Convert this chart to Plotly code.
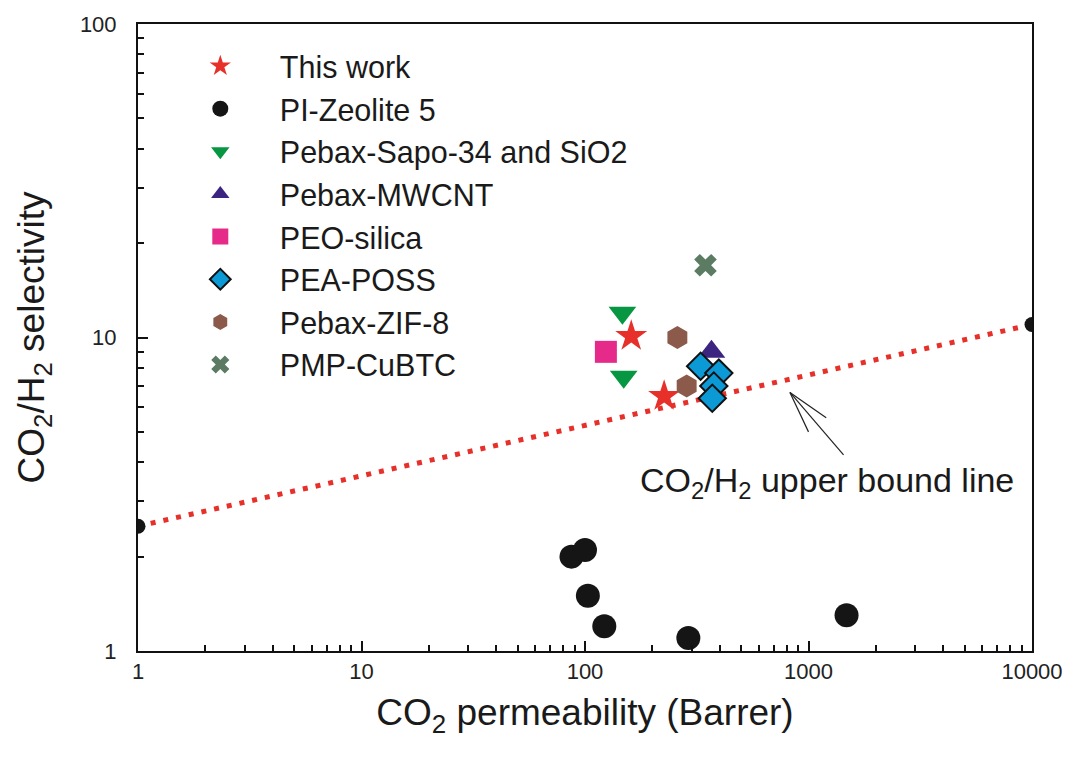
import plotly.graph_objects as go

# ---- data ----
this_work_x = [161, 226]
this_work_y = [10.1, 6.5]

zeolite_x = [87, 100, 103, 122, 290, 1480]
zeolite_y = [2.0, 2.1, 1.5, 1.2, 1.1, 1.3]

sapo_x = [147, 149]
sapo_y = [12.0, 7.5]

mwcnt_x = [368]
mwcnt_y = [9.0]

peo_x = [124]
peo_y = [9.0]

poss_x = [329, 397, 377, 371]
poss_y = [8.1, 7.7, 7.0, 6.4]

zif_x = [259, 285]
zif_y = [10.0, 7.0]

cubtc_x = [346]
cubtc_y = [17.0]

bound_x = [1, 10000]
bound_y = [2.5, 11]

x_ticks = [1, 10, 100, 1000, 10000]
y_ticks = [1, 10, 100]
x_minor = [m * 10 ** k for k in range(4) for m in range(2, 10)]
y_minor = [m * 10 ** k for k in range(2) for m in range(2, 10)]

FONT = "Arial, 'Liberation Sans', sans-serif"

fig = go.Figure()

fig.add_trace(go.Scatter(x=bound_x, y=bound_y, mode="lines+markers",
                         line=dict(color="#e8302a", width=5, dash="5px,8px"),
                         marker=dict(color="#151515", size=15),
                         showlegend=False, hoverinfo="skip"))

series = [
    ("This work", this_work_x, this_work_y, "star", "#e8302a", 24, None),
    ("PI-Zeolite 5", zeolite_x, zeolite_y, "circle", "#151515", 24, None),
    ("Pebax-Sapo-34 and SiO2", sapo_x, sapo_y, "triangle-down", "#079642", 24, None),
    ("Pebax-MWCNT", mwcnt_x, mwcnt_y, "triangle-up", "#3b2580", 24, None),
    ("PEO-silica", peo_x, peo_y, "square", "#e52a89", 22, None),
    ("PEA-POSS", poss_x, poss_y, "diamond", "#0c9ad6", 21, "#111111"),
    ("Pebax-ZIF-8", zif_x, zif_y, "hexagon", "#8c5a4a", 23, None),
    ("PMP-CuBTC", cubtc_x, cubtc_y, "x", "#5b7b63", 20, None),
]
for name, xs, ys, sym, col, sz, lc in series:
    mk = dict(symbol=sym, color=col, size=sz)
    if lc:
        mk["line"] = dict(color=lc, width=2)
    else:
        mk["line"] = dict(width=0)
    fig.add_trace(go.Scatter(x=xs, y=ys, mode="markers", name=name, marker=mk))

# open arrow pointing at the upper bound line (three strokes, data coords)
head = (826, 6.68)
for tail in [(1435, 4.22), (1000, 5.0), (1200, 5.55)]:
    fig.add_shape(type="line", xref="x", yref="y",
                  x0=tail[0], y0=tail[1], x1=head[0], y1=head[1],
                  line=dict(color="#222222", width=1.2))
fig.add_annotation(x=3.081, y=0.536, xref="x", yref="y",
                   text="CO<sub>2</sub>/H<sub>2</sub> upper bound line",
                   showarrow=False, font=dict(family=FONT, size=34, color="#1a1a1a"))

axis_common = dict(
    type="log", showgrid=False, zeroline=False,
    showline=True, linecolor="#111111", linewidth=2, mirror=True,
    ticks="inside", ticklen=10, tickwidth=1.5, tickcolor="#111111",
    tickfont=dict(family=FONT, size=22, color="#222222"),
)

fig.update_xaxes(**axis_common, range=[0, 4],
                 tickmode="array", tickvals=x_ticks, ticktext=[str(v) for v in x_ticks],
                 minor=dict(tickmode="array", tickvals=x_minor, ticks="inside",
                            ticklen=6, tickwidth=1.5, tickcolor="#111111", showgrid=False),
                 title=dict(text="CO<sub>2</sub> permeability (Barrer)",
                            font=dict(family=FONT, size=37, color="#1a1a1a"), standoff=16))
fig.update_yaxes(**axis_common, range=[0, 2], ticklabelstandoff=15,
                 tickmode="array", tickvals=y_ticks, ticktext=[str(v) for v in y_ticks],
                 minor=dict(tickmode="array", tickvals=y_minor, ticks="inside",
                            ticklen=6, tickwidth=1.5, tickcolor="#111111", showgrid=False),
                 title=dict(text="CO<sub>2</sub>/H<sub>2</sub> selectivity",
                            font=dict(family=FONT, size=37, color="#1a1a1a"), standoff=24))

fig.update_layout(
    width=1075, height=758,
    margin=dict(l=138, r=36, t=20, b=107),
    paper_bgcolor="white", plot_bgcolor="white",
    font=dict(family=FONT, color="#1a1a1a"),
    legend=dict(x=0.0255, y=0.975, xanchor="left", yanchor="top",
                font=dict(family=FONT, size=30.5, color="#1a1a1a"),
                bgcolor="rgba(0,0,0,0)", itemwidth=109),
)

fig.write_html("out.html")
